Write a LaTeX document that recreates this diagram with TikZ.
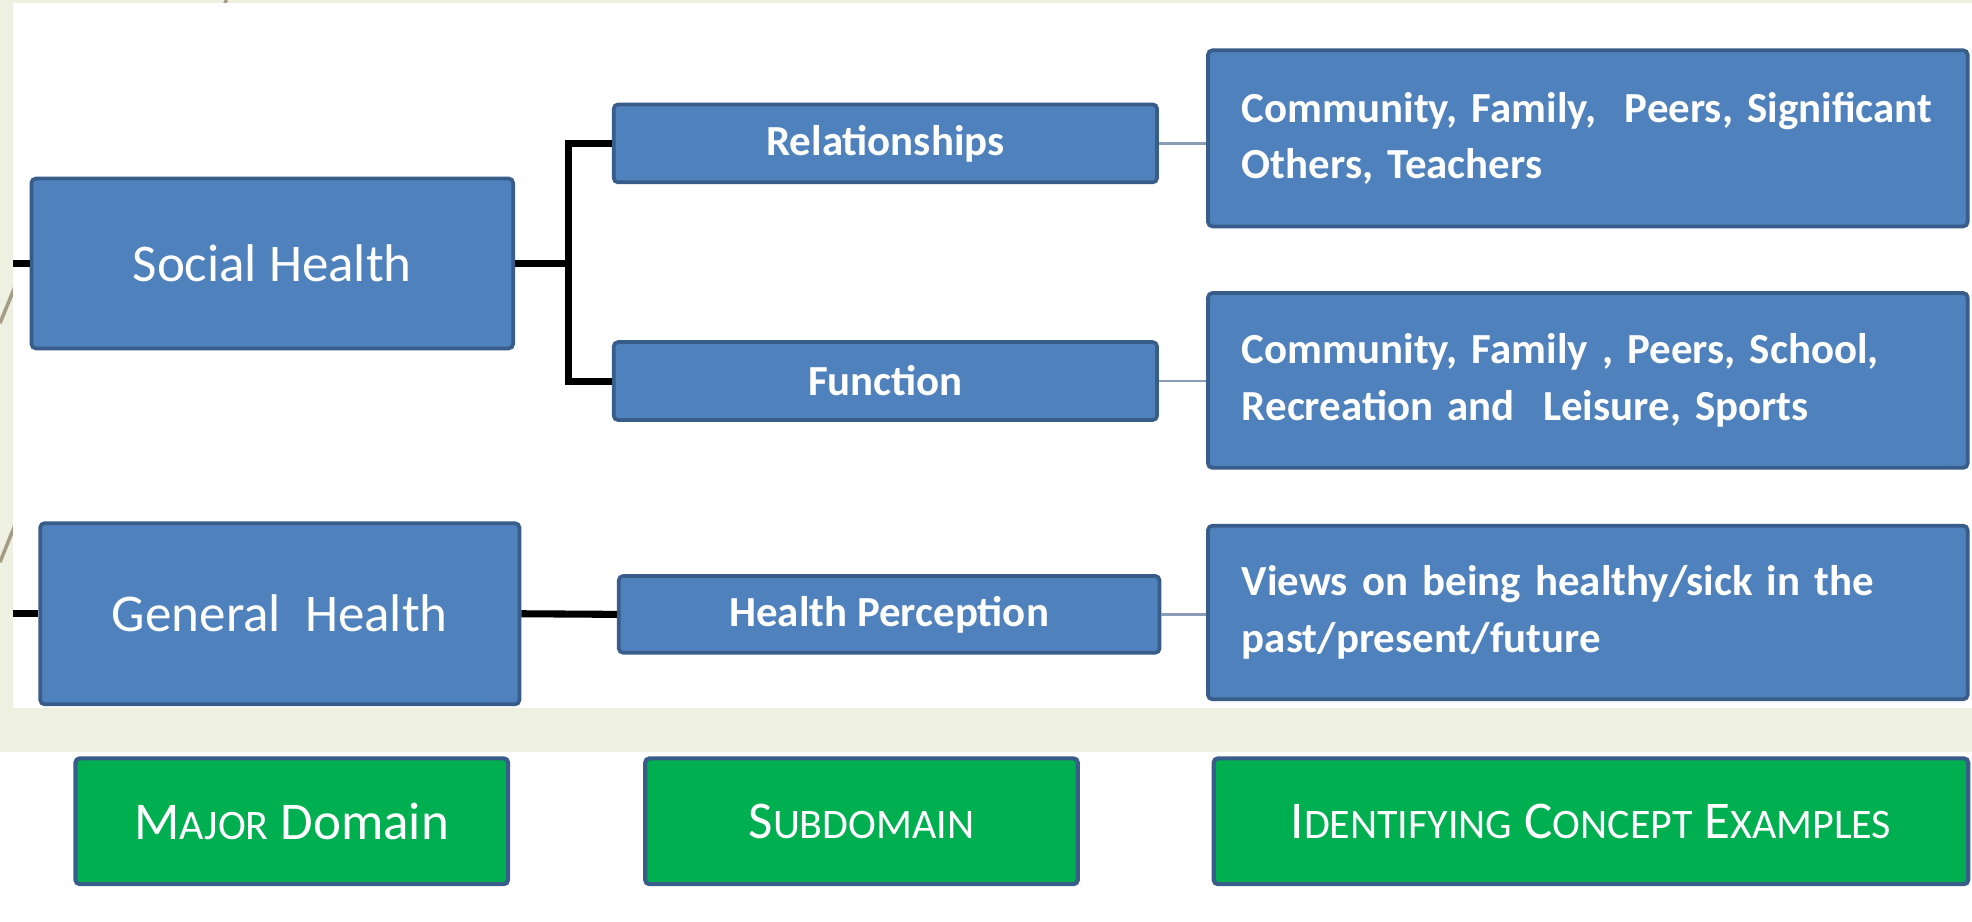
\documentclass[tikz,border=0pt]{standalone}
\usepackage{fontspec}
\setmainfont{Carlito}
\usetikzlibrary{calc}

\definecolor{slidebg}{RGB}{238,240,226}
\definecolor{boxblue}{RGB}{79,129,189}
\definecolor{boxedge}{RGB}{56,93,138}
\definecolor{keygreen}{RGB}{0,176,80}
\definecolor{linkgray}{RGB}{140,156,180}
\definecolor{wispline}{RGB}{164,157,132}

\newcommand{\smallcap}[1]{{\fontsize{9.5}{11}\selectfont #1}}

\tikzset{
  domainbox/.style={draw=boxedge, line width=0.85pt, fill=boxblue, rounded corners=1pt,
    text=white, font=\fontsize{12}{14}\selectfont, minimum height=1.35cm},
  subbox/.style={draw=boxedge, line width=0.85pt, fill=boxblue, rounded corners=1pt,
    text=white, font=\bfseries\fontsize{9.7}{12}\selectfont, minimum width=4.32cm,
    minimum height=0.62cm},
  examplebox/.style={draw=boxedge, line width=0.85pt, fill=boxblue, rounded corners=1pt,
    text=white, font=\bfseries\fontsize{9.7}{12.8}\selectfont, align=left,
    text width=5.5cm, inner xsep=0.27cm, minimum height=1.39cm},
  keybox/.style={draw=boxedge, line width=0.95pt, fill=keygreen, rounded corners=1pt,
    text=white, font=\fontsize{12}{14}\selectfont, minimum width=3.44cm,
    minimum height=1.0cm},
  bus/.style={line width=1.6pt, black},
  link/.style={line width=0.6pt, linkgray}
}

\begin{document}
\begin{tikzpicture}
    % slide background
    \useasboundingbox (0, 0) rectangle (15.68, -7.33);
    \fill[slidebg] (0, 0) rectangle (15.68, -7.33);
    \draw[wispline, line width=0.8pt] (1.80, 0) -- (0, -4.47);
    \draw[wispline, line width=0.8pt] (0.60, -1.10) -- (0, -2.57);
    \fill[white] (0.10, -0.025) rectangle (15.68, -5.63);
    \fill[white] (0, -5.98) rectangle (15.68, -7.33);

    % major domains
    \node[domainbox, minimum width=3.83cm] (social) at (2.165, -2.095) {Social Health};
    \node[domainbox, minimum width=3.81cm, minimum height=1.44cm] (general)
      at (2.225, -4.88) {General~ Health};

    % subdomains
    \node[subbox] (rel) at (7.04, -1.14) {Relationships};
    \node[subbox] (func) at (7.04, -3.03) {Function};
    \node[subbox, minimum width=4.30cm, minimum height=0.61cm] (perc)
      at (7.07, -4.885) {Health Perception};

    % concept examples
    \node[examplebox, minimum height=1.40cm] (ex1) at (12.625, -1.10)
      {Community, Family,~ Peers, Significant\\Others, Teachers};
    \node[examplebox] (ex2) at (12.625, -3.025)
      {Community, Family , Peers, School,\\Recreation and~ Leisure, Sports};
    \node[examplebox, minimum height=1.38cm] (ex3) at (12.625, -4.87)
      {Views on being healthy/sick in the\\past/present/future};

    % key
    \node[keybox] (major) at (2.32, -6.53) {M\smallcap{AJOR} Domain};
    \node[keybox] (subd) at (6.85, -6.53) {S\smallcap{UBDOMAIN}};
    \node[keybox, minimum width=6.0cm] (concepts) at (12.65, -6.53)
      {I\smallcap{DENTIFYING} C\smallcap{ONCEPT} E\smallcap{XAMPLES}};

    % connectors
    \coordinate (socin) at (0.10, -2.095);
    \coordinate (genin) at (0.10, -4.88);
    \coordinate (fork) at (4.52, -2.095);
    \draw[bus] (socin) -- (social.west);
    \draw[bus] (genin) -- (general.west);
    \draw[bus] (social.east) -- (fork);
    \draw[bus] (rel.west) -| (fork) |- (func.west);
    \draw[bus] (general.east) -- (perc.west);
    \draw[link] (rel.east) -- (rel.east -| ex1.west);
    \draw[link] (func.east) -- (func.east -| ex2.west);
    \draw[link] (perc.east) -- (perc.east -| ex3.west);
  \end{tikzpicture}
\end{document}
